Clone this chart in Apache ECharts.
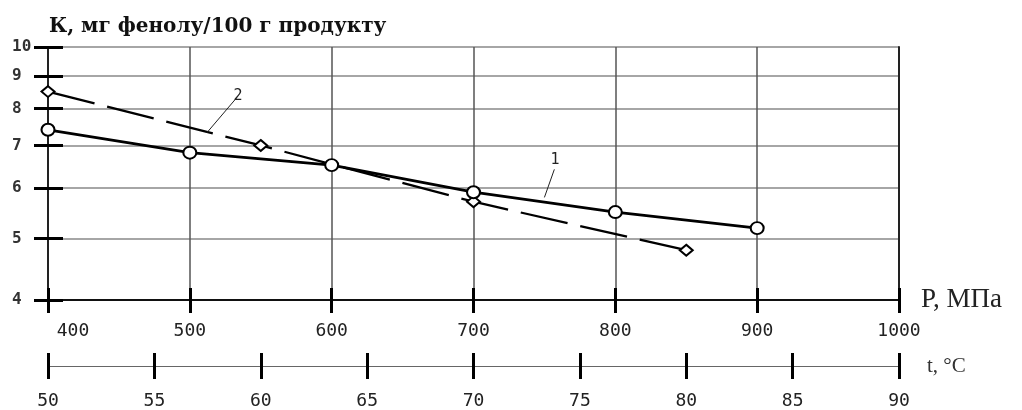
<!DOCTYPE html>
<html>
<head>
<meta charset="utf-8">
<script src="https://cdn.jsdelivr.net/npm/echarts@6/dist/echarts.min.js"></script>
<style>html,body{margin:0;padding:0;background:#fff}#c{width:1022px;height:410px}</style>
</head>
<body>
<div id="c"></div>
<script>
const titleText = 'К, мг фенолу/100 г продукту';
const pressure1 = [400, 500, 600, 700, 800, 900];
const k1 = [7.41, 6.82, 6.52, 5.91, 5.50, 5.19];
const pressure2 = [400, 550, 700, 850];
const k2 = [8.51, 7.0, 5.71, 4.79];
const kTicks = [4, 5, 6, 7, 8, 9, 10];
const pName = 'P, МПа';
const tName = 't, °C';
const leader1 = [[750, 5.80], [757, 6.42]];
const leader2 = [[512, 7.33], [533, 8.32]];

const labelFont = 'DejaVu Sans Mono';
const chart = echarts.init(document.getElementById('c'));
const tickStyle = {color: '#000', width: 3};
chart.setOption({
  animation: false,
  backgroundColor: '#fff',
  title: {text: titleText, left: 44, top: 12,
    textStyle: {fontFamily: 'DejaVu Serif', fontWeight: 'bold', fontSize: 20, color: '#111'}},
  grid: {left: 48, right: 123, top: 47, bottom: 110, containLabel: false},
  xAxis: [
    {type: 'value', min: 400, max: 1000, interval: 100, position: 'bottom',
      axisLine: {lineStyle: {color: '#111', width: 2}},
      axisTick: {length: 13, lineStyle: tickStyle},
      axisLabel: {margin: 22, fontFamily: labelFont, fontSize: 18, color: '#222',
        formatter: v => v === 400 ? '{a|400}' : String(v),
        rich: {a: {fontFamily: labelFont, fontSize: 18, color: '#222', padding: [0, 0, 0, 50]}}},
      splitLine: {show: true, lineStyle: {color: '#555', width: 1.5}},
      name: pName, nameLocation: 'end', nameGap: 22,
      nameTextStyle: {fontFamily: 'Liberation Serif', fontSize: 27, color: '#222'}},
    {type: 'value', min: 400, max: 1000, interval: 100, position: 'bottom',
      axisLine: {show: false}, axisTick: {inside: true, length: 12, lineStyle: tickStyle},
      axisLabel: {show: false}, splitLine: {show: false}},
    {type: 'value', min: 50, max: 90, interval: 5, position: 'bottom', offset: 66,
      axisLine: {lineStyle: {color: '#666', width: 1}},
      axisTick: {length: 13, lineStyle: tickStyle},
      axisLabel: {margin: 26, fontFamily: labelFont, fontSize: 18, color: '#222'},
      splitLine: {show: false},
      name: tName, nameLocation: 'end', nameGap: 28,
      nameTextStyle: {fontFamily: 'Liberation Serif', fontSize: 21, color: '#333'}},
    {type: 'value', min: 50, max: 90, interval: 5, position: 'bottom', offset: 66,
      axisLine: {show: false}, axisTick: {inside: true, length: 13, lineStyle: tickStyle},
      axisLabel: {show: false}, splitLine: {show: false}}
  ],
  yAxis: [
    {type: 'log', logBase: 10, min: 4, max: 10, position: 'left',
      axisLine: {lineStyle: {color: '#222', width: 2}},
      axisTick: {length: 14, customValues: kTicks, lineStyle: tickStyle},
      axisLabel: {customValues: kTicks, margin: 36, align: 'left', fontFamily: labelFont, fontSize: 16, fontWeight: 'bold', color: '#333'},
      splitLine: {show: true, lineStyle: {color: '#888', width: 1.5}}},
    {type: 'log', logBase: 10, min: 4, max: 10, position: 'left',
      axisLine: {show: false},
      axisTick: {inside: true, length: 15, customValues: kTicks, lineStyle: tickStyle},
      axisLabel: {show: false}, splitLine: {show: false}},
    {type: 'log', logBase: 10, min: 4, max: 10, position: 'right',
      axisLine: {show: true, lineStyle: {color: '#222', width: 2}},
      axisTick: {show: false}, axisLabel: {show: false}, splitLine: {show: false}}
  ],
  series: [
    {type: 'line', name: '1', xAxisIndex: 0, yAxisIndex: 0,
      data: pressure1.map((p, i) => [p, k1[i]]),
      lineStyle: {color: '#000', width: 2.8}, symbol: 'circle', symbolSize: [13, 12],
      itemStyle: {color: '#fff', borderColor: '#000', borderWidth: 2}, z: 3,
      markLine: {silent: true, symbol: 'none', lineStyle: {color: '#222', width: 1, type: 'solid'},
        label: {show: true, position: 'end', formatter: '1', fontFamily: labelFont, fontSize: 15, color: '#222', distance: 2},
        data: [[{coord: leader1[0]}, {coord: leader1[1]}]]}},
    {type: 'line', name: '2', xAxisIndex: 0, yAxisIndex: 0,
      data: pressure2.map((p, i) => [p, k2[i]]),
      lineStyle: {color: '#000', width: 2.3, type: [48, 13]}, symbol: 'diamond', symbolSize: [13, 11],
      itemStyle: {color: '#fff', borderColor: '#000', borderWidth: 2}, z: 2,
      markLine: {silent: true, symbol: 'none', lineStyle: {color: '#222', width: 1, type: 'solid'},
        label: {show: true, position: 'end', formatter: '2', fontFamily: labelFont, fontSize: 15, color: '#222', distance: 2},
        data: [[{coord: leader2[0]}, {coord: leader2[1]}]]}}
  ]
});
</script>
</body>
</html>
